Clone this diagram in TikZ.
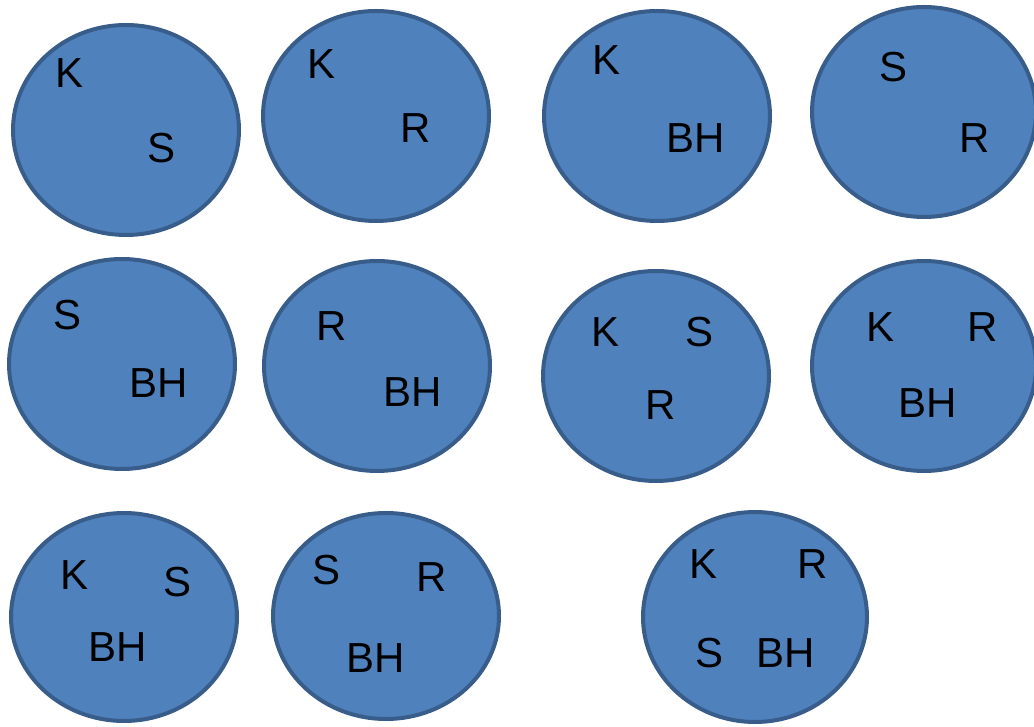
\documentclass[tikz,border=0pt]{standalone}
\usepackage{fontspec}
\setmainfont{Liberation Sans}
\usetikzlibrary{shapes.geometric}
\definecolor{setfill}{HTML}{4F81BD}
\definecolor{setline}{HTML}{385D8A}
\begin{document}
\begin{tikzpicture}[x=1pt,y=1pt,
  setblob/.style={ellipse, draw=setline, fill=setfill, line width=4pt,
    inner sep=0pt, minimum width=226pt, minimum height=210pt},
  lbl/.style={inner sep=0pt, anchor=center, text=black,
    font=\fontsize{42}{42}\selectfont}]
\useasboundingbox (0,0) rectangle (1034,726);
\clip (0,0) rectangle (1034,726);
% first row
\node[setblob] (e1) at (126,596) {};
\node[setblob] (e2) at (376,610) {};
\node[setblob] (e3) at (657,610) {};
\node[setblob, minimum width=224pt] (e4) at (924,614) {};
% second row
\node[setblob] (e5) at (122,362) {};
\node[setblob] (e6) at (377,360) {};
\node[setblob] (e7) at (656,350) {};
\node[setblob, minimum width=224pt] (e8) at (924,360) {};
% third row
\node[setblob, minimum height=208pt] (e9) at (124,109) {};
\node[setblob, minimum height=206pt] (e10) at (386,110) {};
\node[setblob, minimum width=224pt] (e11) at (755,109) {};
% set members
\node[lbl] (k1) at (70,653) {K};
\node[lbl] (s1) at (162,578) {S};
\node[lbl] (k2) at (322,662) {K};
\node[lbl] (r2) at (416,598) {R};
\node[lbl] (k3) at (607,666) {K};
\node[lbl] (b3) at (696,588) {BH};
\node[lbl] (s4) at (893,659) {S};
\node[lbl] (r4) at (975,588) {R};
\node[lbl] (s5) at (68,411) {S};
\node[lbl] (b5) at (159,343) {BH};
\node[lbl] (r6) at (332,400) {R};
\node[lbl] (b6) at (413,334) {BH};
\node[lbl] (k7) at (606,394) {K};
\node[lbl] (s7) at (699,394) {S};
\node[lbl] (r7) at (661,321) {R};
\node[lbl] (k8) at (880,399) {K};
\node[lbl] (r8) at (983,399) {R};
\node[lbl] (b8) at (928,323) {BH};
\node[lbl] (k9) at (75,151) {K};
\node[lbl] (s9) at (178,144) {S};
\node[lbl] (b9) at (118,79) {BH};
\node[lbl] (s10) at (327,156) {S};
\node[lbl] (r10) at (432,149) {R};
\node[lbl] (b10) at (376,68) {BH};
\node[lbl] (k11) at (703,162) {K};
\node[lbl] (r11) at (813,162) {R};
\node[lbl] (s11) at (709,73) {S};
\node[lbl] (b11) at (786,73) {BH};
\end{tikzpicture}
\end{document}
